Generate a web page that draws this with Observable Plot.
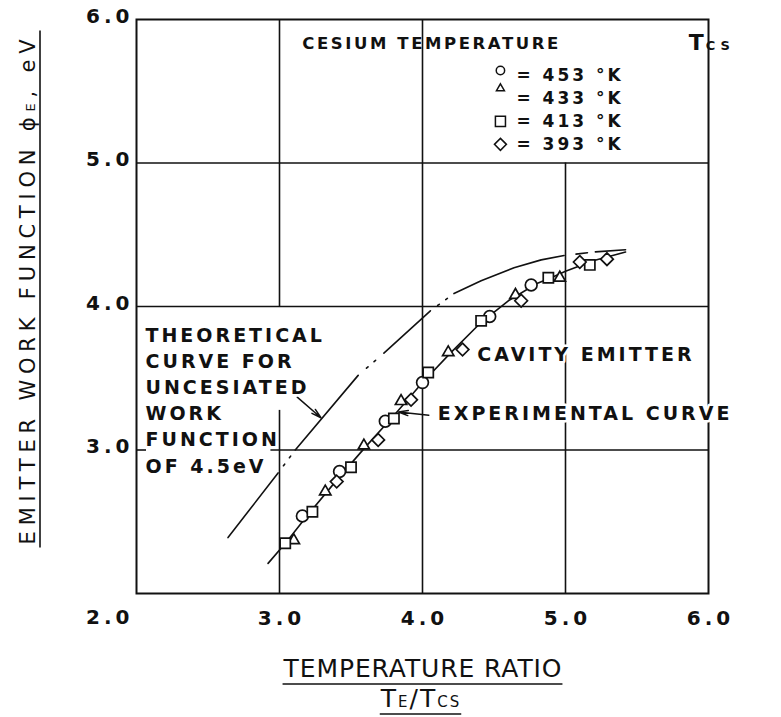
<!DOCTYPE html>
<html>
<head>
<meta charset="utf-8">
<script src="https://cdn.jsdelivr.net/npm/d3@7"></script>
<script src="https://cdn.jsdelivr.net/npm/@observablehq/plot@0.6"></script>
<style>
  html, body { margin: 0; padding: 0; background: #fff; }
  #chart { width: 781px; height: 717px; }
  .ls4 text { letter-spacing: 4px; }
  .ls3 text { letter-spacing: 3px; }
</style>
</head>
<body>
<div id="chart"></div>
<script>
// ---------- data ----------
const xTicks = [3, 4, 5, 6];
const yTicks = [3, 4, 5, 6];
const cornerLabel = ["2.0"];

const legendTitle = "CESIUM TEMPERATURE";
const legendLabels = ["= 453 °K", "= 433 °K", "= 413 °K", "= 393 °K"];
const legendSymbols = ["circle", "triangle2", "square2", "diamond2"];

// [TE/TCs, emitter work function eV]
const circle453   = [[3.16,2.54],[3.42,2.85],[3.74,3.20],[4.00,3.47],[4.47,3.93],[4.76,4.15]];
const triangle433 = [[3.10,2.37],[3.32,2.71],[3.59,3.03],[3.85,3.34],[4.18,3.68],[4.65,4.08],[4.96,4.20]];
const square413   = [[3.04,2.35],[3.23,2.57],[3.50,2.88],[3.80,3.22],[4.04,3.54],[4.41,3.90],[4.88,4.20],[5.17,4.29]];
const diamond393  = [[3.40,2.78],[3.69,3.07],[3.92,3.35],[4.28,3.70],[4.69,4.04],[5.10,4.31],[5.29,4.33]];

const experimentalCurve = [[2.92,2.21],[3.05,2.36],[3.20,2.55],[3.40,2.79],[3.60,3.02],[3.80,3.24],[4.00,3.47],
  [4.20,3.68],[4.40,3.88],[4.60,4.04],[4.80,4.16],[4.90,4.20],[5.00,4.245],[5.20,4.32],[5.42,4.38]];
const theoreticalCurve = [[2.64,2.39],[2.99,2.84],[3.11,3.00],[3.55,3.52],[3.73,3.675],[4.055,3.97],[4.22,4.09],
  [4.41,4.18],[4.64,4.27],[4.83,4.325],[4.99,4.355],[5.20,4.38],[5.42,4.395]];

const theoryNote = "THEORETICAL\nCURVE FOR\nUNCESIATED\nWORK\nFUNCTION\nOF 4.5eV";
const cavityNote = "CAVITY EMITTER";
const experimentalNote = "EXPERIMENTAL CURVE";
const theoryArrow = [{x1: 3.124, y1: 3.368, x2: 3.29, y2: 3.225}];
const experimentalArrow = [{x1: 4.044, y1: 3.242, x2: 3.832, y2: 3.265}];

const yTitle = ["EMITTER WORK FUNCTION ", "ϕ", "E", ", eV"];
const xTitle = "TEMPERATURE RATIO";
const xSubTitle = ["T", "E", "/", "T", "CS"];
const legendUnit = ["T", "CS"];

// ---------- chart ----------
const fmt = d3.format(".1f");
const ink = "#111";
const dotStyle = {x: d => d[0], y: d => d[1], stroke: ink, fill: "white", strokeWidth: 1.7};
const legendRowY = i => 5.61 - i * 0.16;
const legendDot = (i, r, raise) => Plot.dot([legendSymbols[i]], {
  x: 4.545, y: () => legendRowY(i), dy: -raise, symbol: legendSymbols[i], r,
  stroke: ink, fill: "white", strokeWidth: 1.5
});

const plot = Plot.plot({
  width: 781, height: 717,
  marginLeft: 136, marginRight: 73, marginTop: 19, marginBottom: 124,
  x: {domain: [2, 6]},
  y: {domain: [2, 6]},
  style: {fontFamily: "DejaVu Sans", background: "white", color: ink},
  marks: [
    // grid (partial, as in the original drawing)
    Plot.ruleY(yTicks.filter(d => d === 4 || d === 5), {stroke: ink, strokeWidth: 1.6}),
    Plot.ruleY(yTicks.filter(d => d === 3), {x1: 2, x2: 2.07, stroke: ink, strokeWidth: 1.6}),
    Plot.ruleY(yTicks.filter(d => d === 3), {x1: 2.94, x2: 6, stroke: ink, strokeWidth: 1.6}),
    Plot.ruleX(xTicks.filter(d => d === 4), {stroke: ink, strokeWidth: 1.6}),
    Plot.ruleX(xTicks.filter(d => d === 5), {y1: 2, y2: 5, stroke: ink, strokeWidth: 1.6}),
    Plot.ruleX(xTicks.filter(d => d === 3), {y1: 4, y2: 6, stroke: ink, strokeWidth: 1.6}),
    Plot.ruleX(xTicks.filter(d => d === 3), {y1: 2, y2: 3.276, stroke: ink, strokeWidth: 1.6}),
    Plot.frame({stroke: ink, strokeWidth: 2}),

    // curves
    Plot.line(theoreticalCurve, {x: d => d[0], y: d => d[1], stroke: ink, strokeWidth: 1.6,
      strokeDasharray: "81.7,9,2,8,2,7.7,97.6,11,2,8,2,11,62.9,9,2,8,2,8.2,117,12,11.5,8,40"}),
    Plot.line(experimentalCurve, {x: d => d[0], y: d => d[1], stroke: ink, strokeWidth: 1.6}),

    // arrows
    Plot.arrow(theoryArrow, {x1: "x1", y1: "y1", x2: "x2", y2: "y2", stroke: ink, strokeWidth: 1.5, headLength: 10, headAngle: 30}),
    Plot.arrow(experimentalArrow, {x1: "x1", y1: "y1", x2: "x2", y2: "y2", stroke: ink, strokeWidth: 1.5, headLength: 10, headAngle: 30}),

    // annotations (white halo hides grid behind lettering)
    Plot.text([theoryNote], {x: 2.063, y: 3.885, text: d => d, textAnchor: "start", lineAnchor: "top",
      lineHeight: 1.38, fontSize: 19, fontWeight: "bold", className: "ls3", fill: ink, stroke: "white", strokeWidth: 5}),
    Plot.text([cavityNote], {x: 4.383, y: 3.665, text: d => d, textAnchor: "start", lineAnchor: "middle",
      fontSize: 19, fontWeight: "bold", className: "ls3", fill: ink, stroke: "white", strokeWidth: 5}),
    Plot.text([experimentalNote], {x: 4.107, y: 3.25, text: d => d, textAnchor: "start", lineAnchor: "middle",
      fontSize: 19, fontWeight: "bold", className: "ls3", fill: ink, stroke: "white", strokeWidth: 5}),

    // legend rows
    Plot.text(legendLabels, {x: 4.657, y: (d, i) => legendRowY(i), text: d => d, textAnchor: "start", lineAnchor: "middle",
      fontSize: 17, fontWeight: "bold", className: "ls3", fill: ink}),
    legendDot(0, 4.2, 5),
    legendDot(1, 3.8, 10),
    legendDot(2, 6.4, 0),
    legendDot(3, 5.4, 0),

    // data points
    Plot.dot(circle453,   {...dotStyle, symbol: "circle", r: 5.9}),
    Plot.dot(triangle433, {...dotStyle, symbol: "triangle2", r: 5.4}),
    Plot.dot(square413,   {...dotStyle, symbol: "square2", r: 6.5}),
    Plot.dot(diamond393,  {...dotStyle, symbol: "diamond2", r: 5.7}),

    // axes
    Plot.axisX(xTicks, {tickSize: 0, tickPadding: 17, tickFormat: fmt, fontSize: 20, fontWeight: "bold",
      label: null, className: "ls4", dx: 2, fill: ink}),
    Plot.axisY(yTicks, {tickSize: 0, tickPadding: 3, tickFormat: fmt, fontSize: 20, fontWeight: "bold",
      label: null, className: "ls4", dy: -3, fill: ink}),
    Plot.text(cornerLabel, {frameAnchor: "bottom-left", text: d => d, textAnchor: "end", lineAnchor: "middle",
      dx: -3, dy: 24, fontSize: 20, fontWeight: "bold", className: "ls4", fill: ink})
  ]
});

document.getElementById("chart").appendChild(plot);

// ---------- titles with sub-scripted lettering ----------
const svg = d3.select(plot);
const font = "DejaVu Sans";
const sx = plot.scale("x");
const sy = plot.scale("y");

function spread(textSel, target) {
  const node = textSel.node();
  if (!node) return;
  const n = node.getNumberOfChars();
  const natural = node.getComputedTextLength();
  const ls = Math.max(0, (target - natural) / (n - 1));
  textSel.attr("letter-spacing", ls);
}
function underline(g, textSel, offset, extra) {
  const b = textSel.node().getBBox();
  g.append("line")
    .attr("x1", b.x - extra).attr("x2", b.x + b.width + extra)
    .attr("y1", offset).attr("y2", offset)
    .attr("stroke", ink).attr("stroke-width", 1.6);
}

// legend title "CESIUM TEMPERATURE  TCs"
{
  const t = svg.append("text").attr("x", sx.apply(4.067)).attr("y", sy.apply(5.79))
    .attr("font-family", font).attr("font-weight", "bold").attr("font-size", 16.5).attr("fill", ink)
    .text(legendTitle);
  spread(t, 256);
  const u = svg.append("text").attr("x", sx.apply(6.026)).attr("y", sy.apply(5.785))
    .attr("font-family", font).attr("font-weight", "bold").attr("fill", ink);
  u.append("tspan").attr("font-size", 22).text(legendUnit[0]);
  u.append("tspan").attr("font-size", 13).attr("letter-spacing", 5).attr("dx", 2).text(legendUnit[1]);
}

// y title (rotated)
{
  const g = svg.append("g").attr("transform", "translate(35,289) rotate(-90)");
  const t = g.append("text").attr("text-anchor", "middle").attr("font-family", font)
    .attr("font-size", 21).attr("fill", ink);
  t.append("tspan").text(yTitle[0]);
  t.append("tspan").text(yTitle[1]);
  t.append("tspan").attr("font-size", 13).text(yTitle[2]);
  t.append("tspan").text(yTitle[3]);
  spread(t, 505);
  underline(g, t, 5, 3);
}

// x title
{
  const g = svg.append("g").attr("transform", "translate(423,677)");
  const t = g.append("text").attr("text-anchor", "middle").attr("font-family", font)
    .attr("font-size", 25).attr("fill", ink).text(xTitle);
  spread(t, 278);
  underline(g, t, 7, 0);
}
{
  const g = svg.append("g").attr("transform", "translate(421,707)");
  const t = g.append("text").attr("text-anchor", "middle").attr("font-family", font)
    .attr("font-size", 25).attr("fill", ink);
  xSubTitle.forEach((s, i) => t.append("tspan").attr("font-size", (i === 1 || i === 4) ? 15 : 25).text(s));
  t.attr("letter-spacing", 2);
  underline(g, t, 7, 0);
}
</script>
</body>
</html>
